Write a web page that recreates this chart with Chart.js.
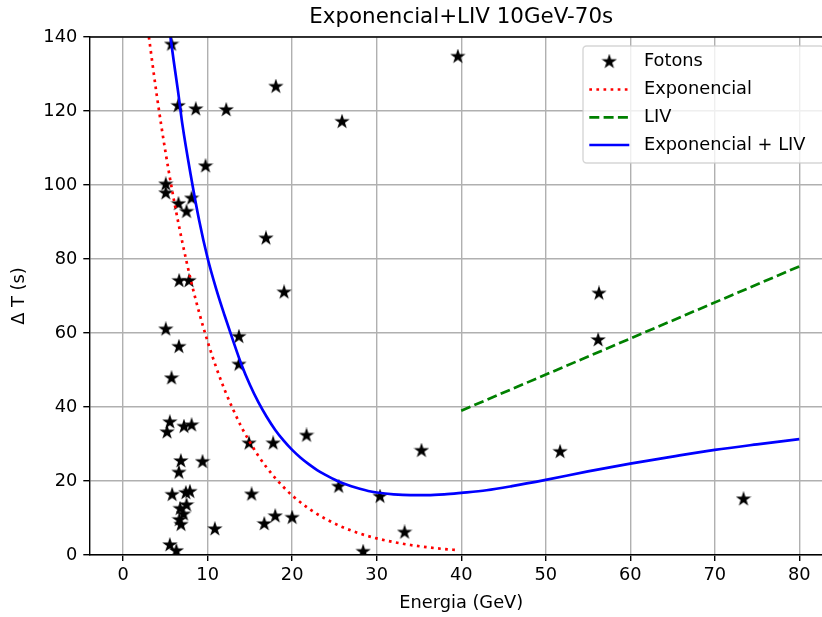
<!DOCTYPE html>
<html>
<head>
<meta charset="utf-8">
<script src="https://cdn.jsdelivr.net/npm/chart.js@4.4.1/dist/chart.umd.min.js"></script>
<style>
    html, body { margin: 0; padding: 0; background: #fff; }
    #wrap { width: 822px; height: 617px; overflow: hidden; }
    #wrap canvas { display: block; }
</style>
</head>
<body>
<div id="wrap"><canvas id="chart" width="850" height="617"></canvas></div>
<script>
// photons (energy GeV, delay s)
var photonE = [5.73, 6.51, 8.6, 12.2, 18.07, 39.6, 25.9, 9.75, 5.05, 5.05,
    6.55, 8.1, 7.5, 16.9, 6.63, 7.8, 19.05, 5.05, 6.6, 13.7,
    13.7, 5.73, 5.53, 5.2, 7.2, 8.1, 14.9, 17.75, 21.7, 6.83,
    6.6, 9.4, 5.8, 7.42, 7.9, 15.2, 6.75, 7.5, 7.15, 6.65,
    6.85, 10.85, 16.7, 18.0, 20.0, 5.53, 6.3, 35.3, 25.5, 30.4,
    33.3, 28.4, 56.3, 56.2, 51.7, 73.4];
var photonDT = [138.0, 121.4, 120.5, 120.3, 126.6, 134.7, 117.1, 105.1, 100.2, 97.8,
    94.9, 96.4, 92.8, 85.6, 74.1, 74.1, 71.0, 61.0, 56.3, 59.0,
    51.5, 47.8, 35.9, 33.2, 34.7, 35.1, 30.2, 30.2, 32.3, 25.4,
    22.3, 25.2, 16.3, 16.8, 17.1, 16.4, 12.5, 13.5, 11.0, 9.5,
    8.2, 7.0, 8.4, 10.5, 10.1, 2.7, 1.1, 28.2, 18.5, 15.8,
    6.1, 0.9, 70.7, 58.1, 27.9, 15.1];

// exponential curve (red dotted)
var expE = [3.05, 4, 5, 6, 7, 8, 9, 10, 11, 12, 13, 14, 15, 16, 17, 18, 19, 20,
    22, 24, 26, 28, 30, 32, 34, 36, 38, 39.6];
var expDT = [140.0, 124.0, 109.1, 96.1, 84.6, 74.4, 65.5, 57.7, 50.8, 44.7, 39.4, 34.6, 30.5,
    26.8, 23.6, 20.8, 18.3, 16.1, 12.5, 9.7, 7.5, 5.8, 4.5, 3.5, 2.7, 2.1, 1.6, 1.33];

// LIV line (green dashed)
var livE = [40, 60, 80];
var livDT = [39.0, 58.5, 78.0];

// exponential + LIV (blue)
var fitE = [5.6, 6.0, 6.5, 7, 8, 9, 10, 11, 12, 13, 14, 15, 16, 17, 18, 19, 20, 21, 22,
    23, 24, 25, 26, 27, 28, 29, 30, 32, 34, 36, 38, 40, 43, 46, 50, 55, 60, 65, 70, 75, 80];
var fitDT = [140.0, 133.3, 125.3, 116.6, 102.7, 90.4, 80.2, 72.0, 64.8, 58.0, 51.5, 46.0,
    41.3, 37.3, 33.8, 30.9, 28.4, 26.3, 24.5, 22.9, 21.6, 20.4, 19.4, 18.6, 17.9, 17.3,
    16.9, 16.4, 16.2, 16.2, 16.4, 16.8, 17.5, 18.6, 20.3, 22.6, 24.7, 26.6, 28.4, 29.9, 31.3];

var xTicks = [0, 10, 20, 30, 40, 50, 60, 70, 80];
var yTicks = [0, 20, 40, 60, 80, 100, 120, 140];
var legendLabels = ['Fotons', 'Exponencial', 'LIV', 'Exponencial + LIV'];
var chartTitle = 'Exponencial+LIV 10GeV-70s';

var FONT = 'DejaVu Sans';

function zip(xs, ys) {
    return xs.map(function(x, i) { return { x: x, y: ys[i] }; });
}

// filled 5 point star, like matplotlib '*'
function makeStar() {
    var c = document.createElement('canvas');
    c.width = 16; c.height = 16;
    var g = c.getContext('2d');
    var R = 5.5, r = R * 0.381966;
    g.beginPath();
    for (var i = 0; i < 10; i++) {
        var rad = (i % 2 === 0) ? R : r;
        var a = -Math.PI / 2 + i * Math.PI / 5;
        var px = 8 + rad * Math.cos(a), py = 8 + rad * Math.sin(a);
        if (i === 0) g.moveTo(px, py); else g.lineTo(px, py);
    }
    g.closePath();
    g.fillStyle = '#000';
    g.fill();
    g.lineWidth = 1.6;
    g.strokeStyle = '#000';
    g.stroke();
    return c;
}
var starImg = makeStar();

var extras = {
    id: 'extras',
    afterDraw: function(chart) {
        var ctx = chart.ctx, a = chart.chartArea;
        ctx.save();
        // top / right spines
        ctx.strokeStyle = '#000';
        ctx.lineWidth = 1.4;
        ctx.beginPath();
        ctx.moveTo(a.left, a.top);
        ctx.lineTo(a.right, a.top);
        ctx.lineTo(a.right, a.bottom);
        ctx.stroke();

        // title
        ctx.fillStyle = '#000';
        ctx.font = '21.4px "' + FONT + '"';
        ctx.textAlign = 'center';
        ctx.textBaseline = 'middle';
        ctx.fillText(chartTitle, (a.left + a.right) / 2, 17.5);

        // legend
        var bx = 583, by = 46, bw = 241, bh = 117;
        ctx.beginPath();
        ctx.roundRect(bx, by, bw, bh, 3.5);
        ctx.fillStyle = 'rgba(255,255,255,0.8)';
        ctx.fill();
        ctx.strokeStyle = 'rgba(204,204,204,0.8)';
        ctx.lineWidth = 1.4;
        ctx.stroke();

        var rows = [61.7, 89.5, 117.3, 145];
        ctx.drawImage(starImg, 609.3 - 8, rows[0] - 8);
        var lineStyles = [
            { color: 'red', dash: [2.7, 4.4] },
            { color: 'green', dash: [10, 4.3] },
            { color: 'blue', dash: [] }
        ];
        lineStyles.forEach(function(s, i) {
            ctx.beginPath();
            ctx.setLineDash(s.dash);
            ctx.strokeStyle = s.color;
            ctx.lineWidth = 2.7;
            ctx.moveTo(589.3, rows[i + 1]);
            ctx.lineTo(629.3, rows[i + 1]);
            ctx.stroke();
        });
        ctx.setLineDash([]);
        ctx.fillStyle = '#000';
        ctx.font = '17.8px "' + FONT + '"';
        ctx.textAlign = 'left';
        legendLabels.forEach(function(t, i) {
            ctx.fillText(t, 644, rows[i]);
        });
        ctx.restore();
    }
};

Chart.defaults.font.family = FONT;
Chart.defaults.font.size = 17.8;
Chart.defaults.color = '#000';

new Chart(document.getElementById('chart').getContext('2d'), {
    type: 'scatter',
    data: {
        datasets: [
            {
                label: legendLabels[0],
                data: zip(photonE, photonDT),
                pointStyle: starImg,
                pointRadius: 6,
                showLine: false,
                order: 4
            },
            {
                label: legendLabels[1],
                data: zip(expE, expDT),
                showLine: true,
                borderColor: 'red',
                borderWidth: 2.7,
                borderDash: [2.7, 4.4],
                pointRadius: 0,
                cubicInterpolationMode: 'monotone',
                order: 3
            },
            {
                label: legendLabels[2],
                data: zip(livE, livDT),
                showLine: true,
                borderColor: 'green',
                borderWidth: 2.7,
                borderDash: [10, 4.3],
                pointRadius: 0,
                order: 2
            },
            {
                label: legendLabels[3],
                data: zip(fitE, fitDT),
                showLine: true,
                borderColor: 'blue',
                borderWidth: 2.7,
                pointRadius: 0,
                cubicInterpolationMode: 'monotone',
                order: 1
            }
        ]
    },
    options: {
        responsive: false,
        animation: false,
        devicePixelRatio: 1,
        layout: { padding: { left: 0, top: 37, right: 16.9, bottom: 0 } },
        plugins: { legend: { display: false }, tooltip: { enabled: false } },
        scales: {
            x: {
                type: 'linear',
                min: -4, max: 84,
                afterBuildTicks: function(s) { s.ticks = xTicks.map(function(v) { return { value: v }; }); },
                afterFit: function(s) { s.height = 62; },
                grid: { color: '#b0b0b0', lineWidth: 1.4, tickColor: '#000', tickLength: 6, tickWidth: 1.4 },
                border: { color: '#000', width: 1.4 },
                ticks: { padding: 4, maxRotation: 0, autoSkip: false },
                title: { display: true, text: 'Energia (GeV)', padding: { top: 0, bottom: 3 } }
            },
            y: {
                type: 'linear',
                min: 0, max: 140,
                afterBuildTicks: function(s) { s.ticks = yTicks.map(function(v) { return { value: v }; }); },
                afterFit: function(s) { s.width = 89.3; },
                grid: { color: '#b0b0b0', lineWidth: 1.4, tickColor: '#000', tickLength: 6, tickWidth: 1.4 },
                border: { color: '#000', width: 1.4 },
                ticks: { padding: 6, autoSkip: false },
                title: { display: true, text: 'Δ T (s)', padding: { top: 8.5, bottom: 0 } }
            }
        }
    },
    plugins: [extras]
});
</script>
</body>
</html>
